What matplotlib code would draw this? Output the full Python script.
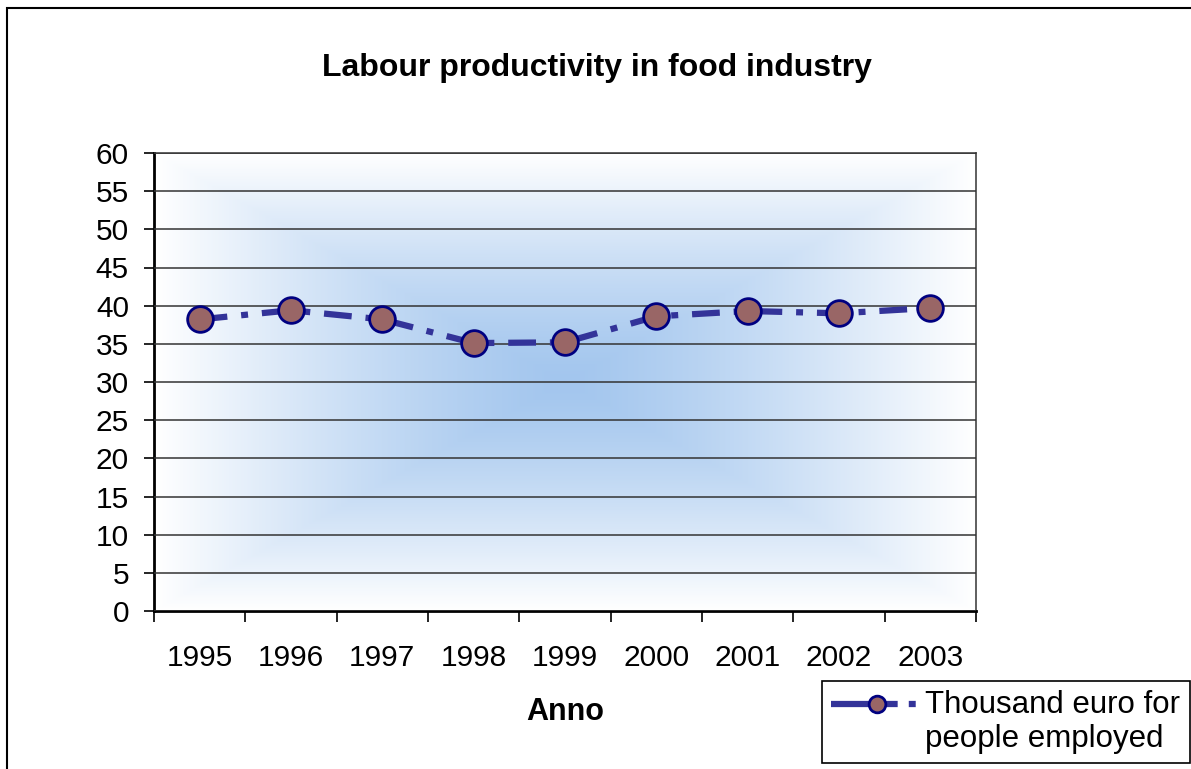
import numpy as np
import matplotlib
matplotlib.use("Agg")
import matplotlib.pyplot as plt
from matplotlib.lines import Line2D
from matplotlib.patches import Rectangle
from matplotlib.colors import LinearSegmentedColormap
from matplotlib.legend_handler import HandlerLine2D

plt.rcParams['font.family'] = ['Liberation Sans', 'DejaVu Sans']
plt.rcParams['lines.scale_dashes'] = False

# dati
years = ['1995', '1996', '1997', '1998', '1999', '2000', '2001', '2002', '2003']
productivity = [38.2, 39.4, 38.2, 35.1, 35.2, 38.6, 39.3, 39.0, 39.7]
y_ticks = list(range(0, 65, 5))

title = 'Labour productivity in food industry'
x_label = 'Anno'
series_label = 'Thousand euro for\npeople employed'

line_col = '#333399'
face_col = '#996666'
edge_col = '#000080'
dash = (0, (20, 10, 5, 10))
fs = 21.5


class FirstLineHandler(HandlerLine2D):
    # in Excel il simbolo della legenda sta all'altezza della prima riga
    def create_artists(self, legend, orig_handle, xdescent, ydescent,
                       width, height, fontsize, trans):
        arts = super().create_artists(legend, orig_handle, xdescent, ydescent,
                                      width, height, fontsize, trans)
        for a in arts:
            a.set_ydata(np.asarray(a.get_ydata()) + 0.6 * fontsize)
        return arts


fig = plt.figure(figsize=(11.91, 7.69), dpi=100)
ax = fig.add_axes([154 / 1191, 1 - 611 / 769, (976 - 154) / 1191, (611 - 153) / 769])

# sfondo sfumato dal centro (rettangolare)
u = np.linspace(-1, 1, 400)
v = np.linspace(-1, 1, 300)
U, V = np.meshgrid(u, v)
t = np.maximum(np.abs(U), np.abs(V)) ** 1.3
cmap = LinearSegmentedColormap.from_list('bg', ['#a3c6ee', '#ffffff'])
ax.imshow(t, cmap=cmap, extent=(-0.5, 8.5, 0, 60), aspect='auto', zorder=0,
          interpolation='bilinear')

x = np.arange(len(years))
ax.plot(x, productivity, color=line_col, lw=4.5, linestyle=dash,
        marker='o', ms=18.5, mfc=face_col, mec=edge_col, mew=2, zorder=3)

ax.set_xlim(-0.5, len(years) - 0.5)
ax.set_ylim(0, 60)
ax.set_yticks(y_ticks)
ax.yaxis.grid(True, color='#333333', lw=1.1)
ax.set_axisbelow(False)
for gl in ax.get_ygridlines():
    gl.set_zorder(1)

ax.set_xticks(x)
ax.set_xticklabels(years)
ax.set_xticks(np.arange(-0.5, len(years)), minor=True)
ax.tick_params(axis='x', which='major', length=0, pad=24, labelsize=fs)
ax.tick_params(axis='x', which='minor', length=8, width=1.2, direction='out')
ax.tick_params(axis='y', length=7, width=1.2, pad=11, labelsize=fs)

for side in ['left', 'bottom']:
    ax.spines[side].set_linewidth(2)
for side in ['top', 'right']:
    ax.spines[side].set_linewidth(1.1)
    ax.spines[side].set_color('#333333')

fig.text(597 / 1191, 1 - 68 / 769, title, ha='center', va='center',
         fontsize=23, fontweight='bold')
fig.text(565 / 1191, 1 - 712 / 769, x_label, ha='center', va='center',
         fontsize=22, fontweight='bold')

handle = Line2D([], [], color=line_col, lw=4.5, linestyle=(0, (48, 8, 5, 8)),
                marker='o', ms=12, mfc=face_col, mec=edge_col, mew=2)
leg = fig.legend([handle], [series_label], loc='upper left',
                 bbox_to_anchor=(822 / 1191, 1 - 681 / 769),
                 handler_map={Line2D: FirstLineHandler()},
                 prop={'size': 22.5}, frameon=True, fancybox=False, framealpha=1,
                 edgecolor='black', handlelength=2.9, handletextpad=0.1,
                 borderpad=0.3, borderaxespad=0)
leg.get_frame().set_linewidth(1.2)
for txt in leg.get_texts():
    txt.set_linespacing(1.15)

# bordo della figura
fig.patches.append(Rectangle((7 / 1191, -0.05), 1.1, 1 - 8 / 769 + 0.05,
                             transform=fig.transFigure, fill=False,
                             edgecolor='black', lw=1.5))

fig.savefig('out.png', dpi=100)
